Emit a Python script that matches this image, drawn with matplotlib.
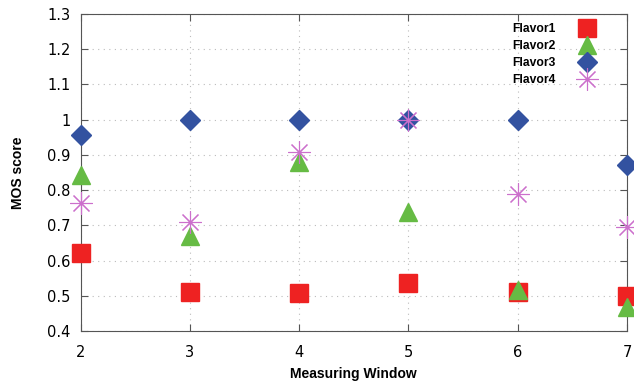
import matplotlib
matplotlib.use('Agg')
import matplotlib.pyplot as plt

# data
windows = [2, 3, 4, 5, 6, 7]
flavor1 = [0.623, 0.511, 0.509, 0.537, 0.512, 0.500]
flavor2 = [0.843, 0.670, 0.880, 0.738, 0.516, 0.470]
flavor3 = [0.955, 1.000, 1.000, 1.000, 1.000, 0.870]
flavor4 = [0.765, 0.710, 0.908, 1.000, 0.790, 0.695]

fig, ax = plt.subplots(figsize=(6.34, 3.89), dpi=100)
fig.subplots_adjust(left=0.127, right=0.989, top=0.965, bottom=0.148)

ax.plot(windows, flavor1, ls='none', marker='s', ms=12.5, color='#ee2222', label='Flavor1', clip_on=False, zorder=3)
ax.plot(windows, flavor2, ls='none', marker='^', ms=13, color='#66bb44', label='Flavor2', clip_on=False, zorder=4)
ax.plot(windows, flavor3, ls='none', marker='D', ms=10, color='#3352a0', label='Flavor3', clip_on=False, zorder=3)
ax.plot(windows, flavor4, ls='none', marker=(8, 2, 0), ms=16, mew=0.8, color='#cc70cc', label='Flavor4', clip_on=False, zorder=5)

ax.set_xlim(2, 7)
ax.set_ylim(0.4, 1.3)
ax.set_xticks(windows)
ax.set_yticks([0.4, 0.5, 0.6, 0.7, 0.8, 0.9, 1.0, 1.1, 1.2, 1.3])
ax.set_yticklabels(['0.4', '0.5', '0.6', '0.7', '0.8', '0.9', '1', '1.1', '1.2', '1.3'])
ax.tick_params(direction='in', top=True, right=True, labelsize=10.5, length=5, color='#555555')
ax.tick_params(axis='x', pad=10)
ax.tick_params(axis='y', pad=7)
ax.grid(True, ls=(0, (1, 4)), color='#bbbbbb', lw=0.8)
for s in ax.spines.values():
    s.set_color('#555555')

lab = {'family': 'Liberation Sans', 'weight': 'bold', 'size': 10}
ax.set_xlabel('Measuring Window', fontdict=lab, labelpad=5)
ax.set_ylabel('MOS score', fontdict=lab, labelpad=16)

leg = ax.legend(loc='upper right', frameon=False, markerfirst=False,
                prop={'family': 'Liberation Sans', 'weight': 'bold', 'size': 8.7},
                handletextpad=1.6, labelspacing=0.42, borderaxespad=0, bbox_to_anchor=(0.958, 0.985))

fig.savefig('out.png')
